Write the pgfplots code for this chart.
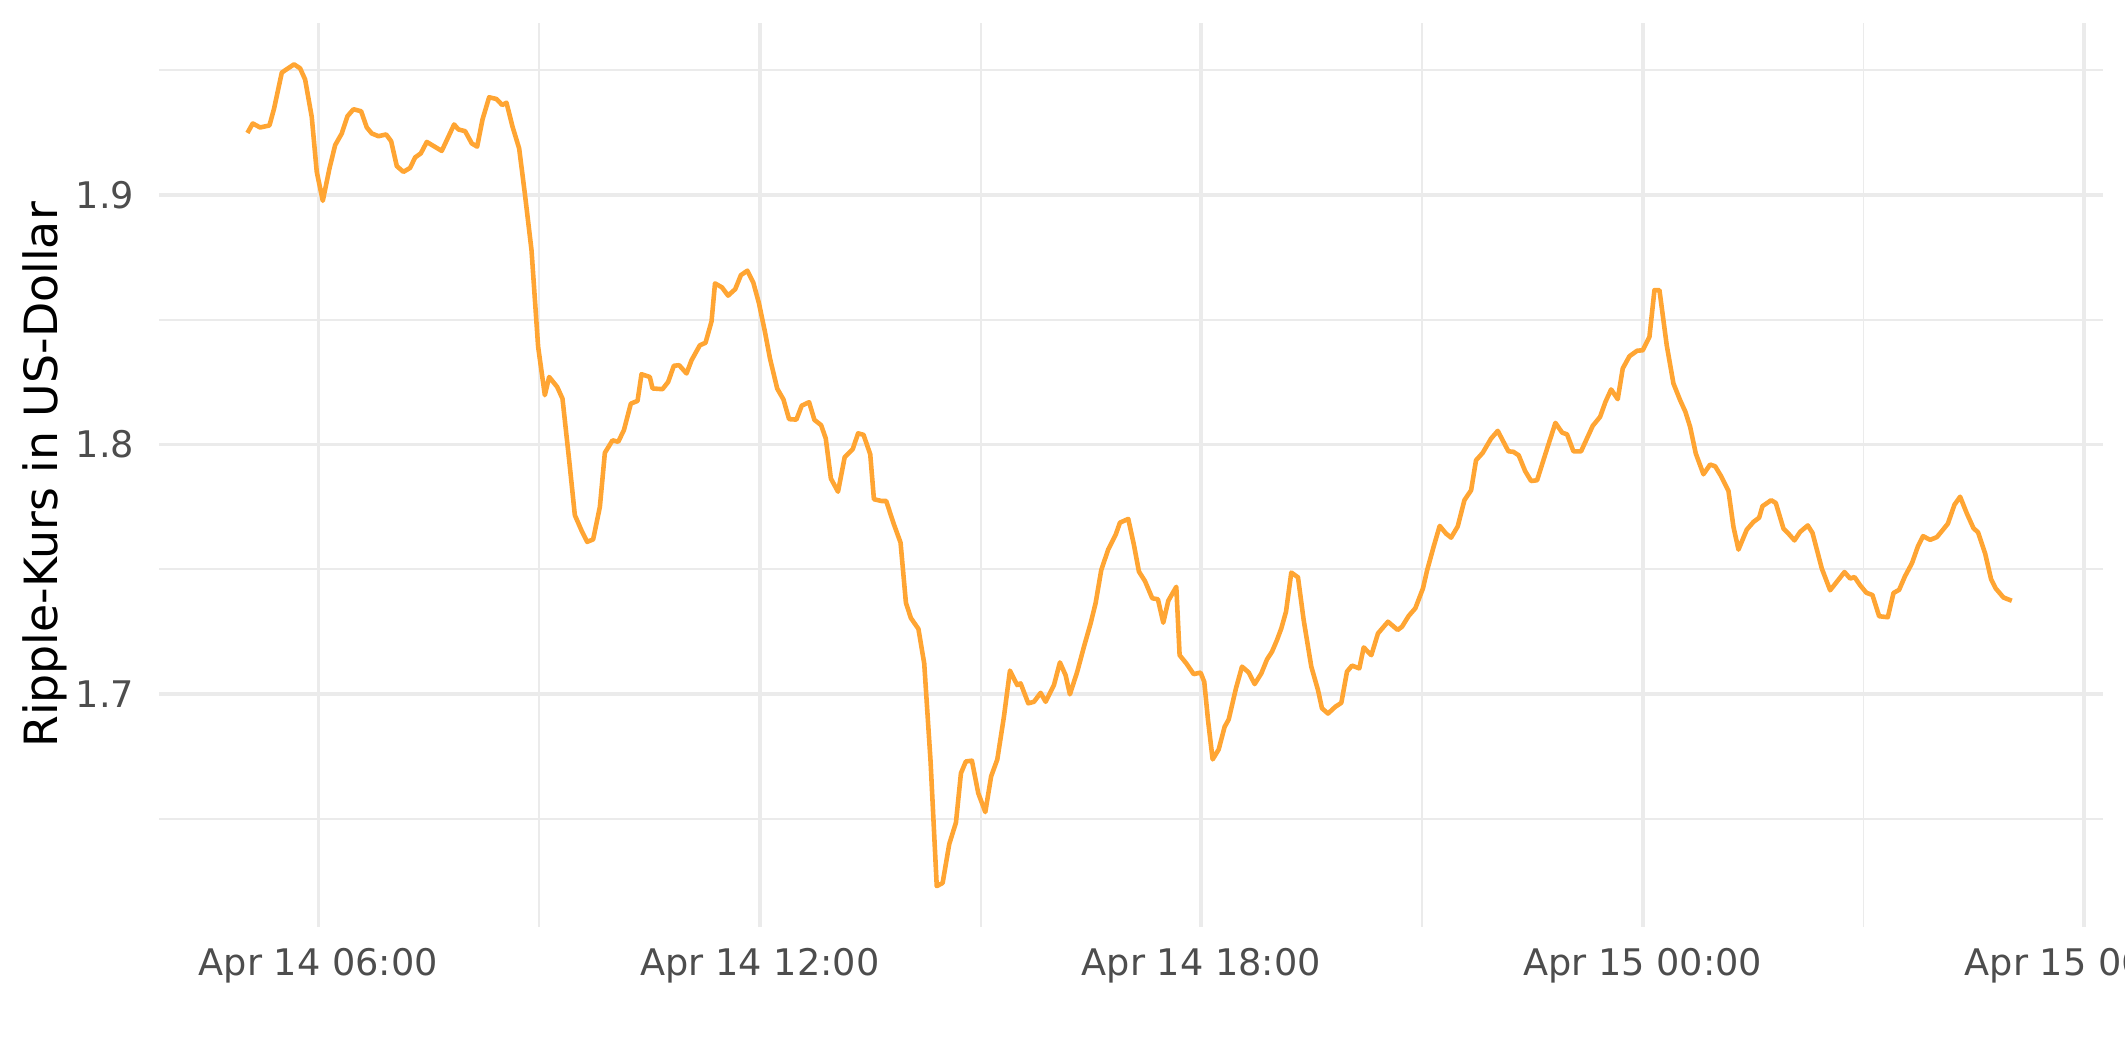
\documentclass[border=0pt]{standalone}
\usepackage{pgfplots}
\pgfplotsset{compat=1.18}
\usepackage{fontspec}
\setmainfont{DejaVu Sans}
\definecolor{gridc}{HTML}{EBEBEB}
\definecolor{tickc}{HTML}{4D4D4D}
\definecolor{linec}{RGB}{255,165,51}
\begin{document}
\begin{tikzpicture}
\begin{axis}[
  scale only axis, width=466.5pt, height=217pt,
  xmin=3.835, xmax=30.255, ymin=1.6066, ymax=1.969,
  axis line style={draw=none},
  major tick length=0pt, minor tick length=0pt,
  xtick={6,12,18,24,30},
  xticklabels={Apr 14 06:00, Apr 14 12:00, Apr 14 18:00, Apr 15 00:00, Apr 15 06:00},
  minor xtick={9,15,21,27},
  ytick={1.7,1.8,1.9},
  yticklabels={1.7,1.8,1.9},
  minor ytick={1.65,1.75,1.85,1.95},
  grid=both,
  major grid style={gridc, line width=0.9pt},
  minor grid style={gridc, line width=0.45pt},
  tick label style={font=\fontsize{8.8}{10}\selectfont, text=tickc},
  xticklabel style={anchor=north, inner sep=0pt, yshift=-5pt},
  yticklabel style={anchor=east, inner sep=0pt, xshift=-5.8pt},
  ylabel={Ripple-Kurs in US-Dollar},
  ylabel style={font=\fontsize{11}{13}\selectfont, at={(axis description cs:-0.0590,0.5)}, anchor=center},
]
\addplot[linec, line width=1.1pt, line join=round] table {
x y
5.035 1.9249
5.107 1.9287
5.207 1.9271
5.334 1.9279
5.397 1.9347
5.502 1.9491
5.592 1.9509
5.669 1.9524
5.751 1.9508
5.819 1.9463
5.909 1.9313
5.977 1.9093
6.059 1.8977
6.150 1.9107
6.227 1.9200
6.317 1.9247
6.394 1.9316
6.476 1.9344
6.580 1.9336
6.657 1.9271
6.725 1.9247
6.816 1.9236
6.920 1.9243
6.988 1.9216
7.065 1.9116
7.155 1.9093
7.246 1.9109
7.314 1.9151
7.391 1.9167
7.473 1.9213
7.676 1.9177
7.844 1.9283
7.903 1.9263
7.994 1.9256
8.084 1.9207
8.157 1.9194
8.230 1.9303
8.320 1.9392
8.420 1.9385
8.497 1.9361
8.556 1.9370
8.638 1.9274
8.728 1.9187
8.805 1.9007
8.896 1.8779
8.986 1.8392
9.077 1.8198
9.136 1.8271
9.245 1.8231
9.317 1.8184
9.408 1.7937
9.485 1.7717
9.575 1.7656
9.652 1.7610
9.734 1.7620
9.825 1.7750
9.893 1.7967
9.997 1.8017
10.074 1.8011
10.151 1.8057
10.246 1.8164
10.337 1.8175
10.391 1.8282
10.504 1.8271
10.541 1.8225
10.676 1.8222
10.753 1.8251
10.831 1.8316
10.903 1.8318
11.003 1.8285
11.071 1.8338
11.184 1.8398
11.261 1.8408
11.343 1.8494
11.390 1.8646
11.485 1.8630
11.568 1.8597
11.665 1.8623
11.742 1.8679
11.830 1.8697
11.912 1.8648
11.986 1.8568
12.066 1.8456
12.138 1.8344
12.236 1.8224
12.320 1.8181
12.397 1.8102
12.496 1.8100
12.569 1.8156
12.669 1.8170
12.741 1.8099
12.832 1.8078
12.895 1.8025
12.965 1.7864
13.062 1.7811
13.153 1.7950
13.262 1.7982
13.335 1.8045
13.409 1.8039
13.500 1.7961
13.550 1.7781
13.650 1.7774
13.717 1.7774
13.817 1.7684
13.912 1.7607
13.985 1.7366
14.052 1.7305
14.155 1.7261
14.234 1.7122
14.320 1.6730
14.404 1.6230
14.484 1.6243
14.574 1.6399
14.665 1.6485
14.733 1.6683
14.800 1.6730
14.882 1.6733
14.968 1.6603
15.064 1.6527
15.143 1.6670
15.227 1.6738
15.317 1.6909
15.399 1.7094
15.498 1.7036
15.544 1.7043
15.648 1.6963
15.725 1.6969
15.816 1.7005
15.884 1.6969
15.997 1.7036
16.078 1.7127
16.155 1.7076
16.214 1.6999
16.314 1.7090
16.405 1.7190
16.495 1.7283
16.563 1.7364
16.640 1.7497
16.735 1.7580
16.835 1.7638
16.894 1.7687
17.007 1.7702
17.084 1.7598
17.152 1.7491
17.234 1.7453
17.333 1.7384
17.410 1.7380
17.483 1.7286
17.551 1.7374
17.660 1.7430
17.705 1.7156
17.796 1.7123
17.896 1.7080
17.990 1.7086
18.040 1.7049
18.091 1.6896
18.154 1.6738
18.236 1.6778
18.317 1.6869
18.372 1.6898
18.471 1.7023
18.553 1.7110
18.643 1.7087
18.725 1.7040
18.816 1.7083
18.893 1.7139
18.961 1.7170
19.029 1.7217
19.087 1.7263
19.151 1.7330
19.223 1.7487
19.314 1.7468
19.391 1.7297
19.495 1.7110
19.586 1.7016
19.640 1.6943
19.722 1.6922
19.821 1.6949
19.903 1.6965
19.980 1.7090
20.048 1.7114
20.148 1.7103
20.207 1.7187
20.311 1.7156
20.401 1.7243
20.537 1.7290
20.669 1.7257
20.728 1.7270
20.818 1.7313
20.909 1.7344
21.013 1.7424
21.068 1.7495
21.158 1.7591
21.240 1.7674
21.327 1.7643
21.395 1.7627
21.485 1.7672
21.576 1.7777
21.667 1.7817
21.734 1.7937
21.825 1.7967
21.938 1.8024
22.029 1.8055
22.174 1.7973
22.242 1.7971
22.314 1.7957
22.401 1.7894
22.482 1.7854
22.564 1.7857
22.686 1.7971
22.813 1.8087
22.904 1.8048
22.971 1.8041
23.058 1.7973
23.162 1.7973
23.230 1.8017
23.320 1.8075
23.420 1.8111
23.493 1.8171
23.570 1.8221
23.660 1.8182
23.728 1.8305
23.819 1.8354
23.923 1.8376
24.000 1.8378
24.091 1.8432
24.159 1.8619
24.227 1.8619
24.326 1.8398
24.417 1.8245
24.508 1.8178
24.580 1.8131
24.644 1.8071
24.721 1.7964
24.825 1.7881
24.916 1.7920
24.984 1.7913
25.066 1.7873
25.165 1.7814
25.233 1.7670
25.301 1.7579
25.414 1.7659
25.505 1.7690
25.582 1.7707
25.627 1.7753
25.745 1.7777
25.808 1.7766
25.913 1.7663
25.981 1.7643
26.062 1.7616
26.139 1.7650
26.243 1.7676
26.307 1.7646
26.434 1.7503
26.547 1.7416
26.742 1.7489
26.819 1.7463
26.878 1.7469
26.955 1.7436
27.040 1.7406
27.122 1.7397
27.213 1.7312
27.331 1.7308
27.408 1.7405
27.485 1.7418
27.564 1.7472
27.660 1.7525
27.739 1.7591
27.810 1.7633
27.906 1.7618
27.997 1.7629
28.065 1.7653
28.147 1.7683
28.237 1.7759
28.314 1.7791
28.405 1.7724
28.495 1.7665
28.558 1.7648
28.655 1.7562
28.735 1.7460
28.799 1.7423
28.903 1.7387
29.016 1.7374
};
\end{axis}
\pgfresetboundingbox
\path ([xshift=-38.2pt,yshift=-32.5pt]current axis.south west) rectangle ([xshift=5.3pt,yshift=5.5pt]current axis.north east);
\end{tikzpicture}
\end{document}
